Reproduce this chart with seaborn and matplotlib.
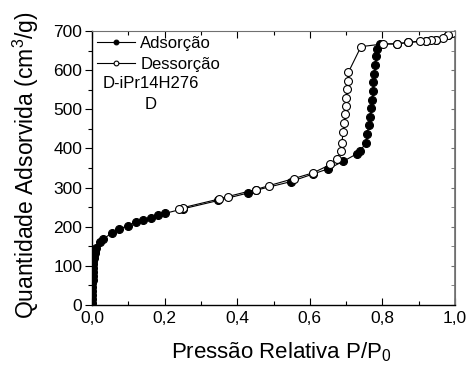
import numpy as np
import pandas as pd
import matplotlib
matplotlib.use("Agg")
import matplotlib.pyplot as plt
import seaborn as sns
from matplotlib.ticker import MultipleLocator, FuncFormatter

# ---- data ----
ads_x = [0.0002, 0.0004, 0.0006, 0.0008, 0.001, 0.0012, 0.0015, 0.002, 0.0025,
         0.003, 0.0035, 0.004, 0.005, 0.006, 0.007, 0.008, 0.011,
         0.022, 0.031, 0.054, 0.074, 0.098, 0.121, 0.140, 0.162, 0.182, 0.201,
         0.252, 0.348, 0.429, 0.451, 0.547, 0.610, 0.651, 0.692, 0.729, 0.738,
         0.754, 0.758, 0.762, 0.767, 0.769, 0.772, 0.774, 0.775, 0.778, 0.780,
         0.783, 0.786, 0.793, 0.839, 0.871, 0.919, 0.949, 0.982, 1.000]
ads_y = [5, 15, 25, 35, 45, 55, 65, 75, 85,
         95, 105, 112, 120, 127, 133, 138, 145,
         161, 168, 184, 193, 203, 211, 216, 223, 229, 234,
         246, 267, 286, 293, 315, 335, 348, 367, 386, 393,
         413, 437, 460, 481, 503, 525, 547, 569, 591, 613,
         635, 654, 667, 667, 671, 674, 678, 690, 700]

des_x = [1.000, 0.991, 0.982, 0.968, 0.949, 0.935, 0.919, 0.904, 0.871, 0.839,
         0.802, 0.741, 0.706, 0.704, 0.702, 0.700, 0.699, 0.697, 0.695, 0.692,
         0.688, 0.685, 0.676, 0.657, 0.610, 0.556, 0.488, 0.451, 0.374, 0.351,
         0.252, 0.239]
des_y = [700, 694, 690, 683, 678, 676, 674, 674, 671, 667,
         667, 660, 594, 573, 551, 530, 509, 488, 464, 441,
         413, 393, 373, 359, 338, 323, 305, 295, 277, 271,
         249, 246]

x_ticks = [0.0, 0.2, 0.4, 0.6, 0.8, 1.0]
y_ticks = [0, 100, 200, 300, 400, 500, 600, 700]

plt.rcParams['font.family'] = ['Liberation Sans', 'DejaVu Sans']
plt.rcParams['mathtext.fontset'] = 'custom'
plt.rcParams['mathtext.rm'] = 'Liberation Sans'
plt.rcParams['mathtext.it'] = 'Liberation Sans'

fig = plt.figure(figsize=(4.72, 3.74), dpi=100)
ax = fig.add_axes([92/472, 1-305/374, 363/472, 274/374])

ads = pd.DataFrame({"x": ads_x, "y": ads_y})
des = pd.DataFrame({"x": des_x, "y": des_y})

sns.lineplot(data=ads, x="x", y="y", sort=False, estimator=None, ax=ax,
             color="black", lw=0.8, marker="o", markersize=5.7,
             markerfacecolor="black", markeredgecolor="black",
             markeredgewidth=0.8, label="Adsorção")
sns.lineplot(data=des, x="x", y="y", sort=False, estimator=None, ax=ax,
             color="black", lw=0.8, marker="o", markersize=5.7,
             markerfacecolor="white", markeredgecolor="black",
             markeredgewidth=0.8, label="Dessorção")

ax.set_xlim(0, 1.0)
ax.set_ylim(0, 700)
ax.set_xticks(x_ticks)
ax.set_yticks(y_ticks)
ax.xaxis.set_minor_locator(MultipleLocator(0.1))
ax.yaxis.set_minor_locator(MultipleLocator(50))
ax.xaxis.set_major_formatter(FuncFormatter(lambda v, p: f"{v:.1f}".replace(".", ",")))

ax.tick_params(axis="x", which="both", direction="in", top=True, bottom=True,
               labelsize=12.5, pad=4)
ax.tick_params(axis="x", which="major", length=5, width=0.8)
ax.tick_params(axis="x", which="minor", length=3, width=0.8)
ax.tick_params(axis="y", which="both", direction="out", left=True, right=False,
               labelsize=12.5, pad=2)
ax.tick_params(axis="y", which="major", length=5, width=0.8)
ax.tick_params(axis="y", which="minor", length=3, width=0.8)

sec = ax.secondary_yaxis("right")
sec.set_yticks(y_ticks)
sec.yaxis.set_minor_locator(MultipleLocator(50))
sec.tick_params(which="both", direction="in", labelright=False, color="#707070")
sec.tick_params(which="major", length=3)
sec.tick_params(which="minor", length=3)
sec.spines["right"].set_color("#707070")
sec.spines["right"].set_linewidth(1.2)

for s in ["left", "bottom"]:
    ax.spines[s].set_color("black")
    ax.spines[s].set_linewidth(1.0)
ax.spines["top"].set_color("#707070")
ax.spines["right"].set_color("#707070")

ax.set_xlabel("Pressão Relativa P/P$_0$", fontsize=16)
ax.set_ylabel("Quantidade Adsorvida (cm$^3$/g)", fontsize=16.5)
ax.xaxis.set_label_coords(0.52, -0.13)
ax.yaxis.set_label_coords(-0.14, 0.51)

leg = ax.legend(loc="upper left", bbox_to_anchor=(0, 1), borderaxespad=0,
                frameon=False, fontsize=12, handlelength=2.3, handletextpad=0.3,
                borderpad=0.3, labelspacing=0.35, markerscale=0.6)

ax.text(0.030, 565, "D-iPr14H276", fontsize=12, va="center", ha="left")
ax.text(0.146, 512, "D", fontsize=12, va="center", ha="left")

fig.savefig("out.png", dpi=100)
